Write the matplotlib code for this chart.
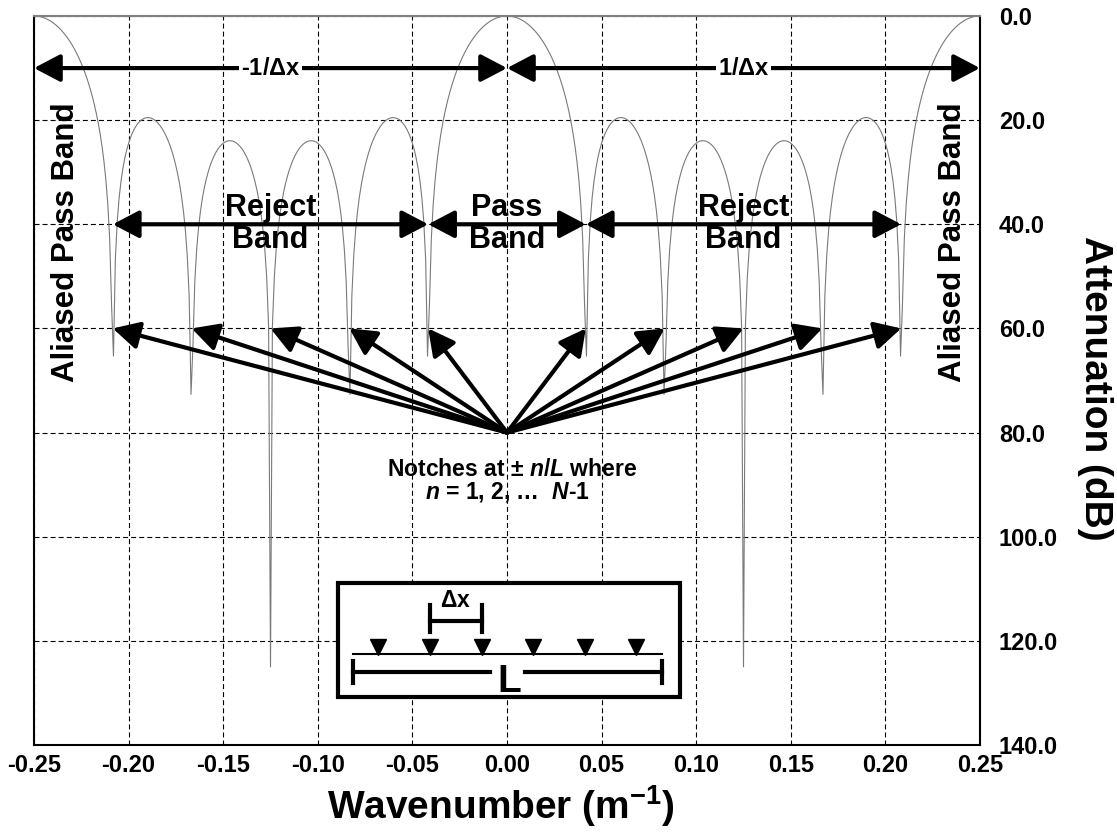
import numpy as np
import matplotlib
matplotlib.use('Agg')
import matplotlib.pyplot as plt
from matplotlib.patches import Rectangle
from matplotlib.ticker import FormatStrFormatter

plt.rcParams['font.family'] = ['Liberation Sans', 'DejaVu Sans']
plt.rcParams['font.weight'] = 'bold'
plt.rcParams['mathtext.fontset'] = 'custom'
plt.rcParams['mathtext.rm'] = 'Liberation Sans'
plt.rcParams['mathtext.it'] = 'Liberation Sans:italic:bold'
plt.rcParams['mathtext.bf'] = 'Liberation Sans:bold'
plt.rcParams['lines.scale_dashes'] = False

# array: 6 receivers, 1/dx = 0.25 1/m -> dx = 4 m
n_elem = 6
dx = 4.0
db_scale = 1.57      # sidelobes read at ~19.5 / ~23.8 dB
floor_db = 125.0     # deepest notch (at +-0.125)
k = np.arange(-250, 251) / 1000.0   # wavenumber samples, 0.001 apart

xticks = [-0.25, -0.20, -0.15, -0.10, -0.05, 0.00, 0.05, 0.10, 0.15, 0.20, 0.25]
yticks = [0, 20, 40, 60, 80, 100, 120, 140]

notch_n = [1, 2, 3, 4, 5]
band_edges = [-0.25, 0.0, 0.25]                         # -1/dx, 1/dx arrows
band_arrows = [(-5 / 24, -1 / 24), (-1 / 24, 1 / 24), (1 / 24, 5 / 24)]
band_labels = ['Reject\nBand', 'Pass\nBand', 'Reject\nBand']
elem_x = [-0.0680, -0.0407, -0.0134, 0.0139, 0.0412, 0.0682]

# array response
u = np.pi * k * dx
num = np.sin(n_elem * u)
den = n_elem * np.sin(u)
af = np.where(np.abs(den) < 1e-9, 1.0, num / np.where(np.abs(den) < 1e-9, 1.0, den))
atten = np.minimum(-20 * db_scale * np.log10(np.abs(af) + 1e-300), floor_db)

fig = plt.figure(figsize=(11.17, 8.34), dpi=100)
ax = fig.add_axes([34 / 1117, 1 - 745 / 834, 946 / 1117, 729 / 834])
ax.plot(k, atten, color='#7a7a7a', lw=0.8, zorder=2)

ax.set_xlim(-0.25, 0.25)
ax.set_ylim(140, 0)
ax.set_xticks(xticks)
ax.set_yticks(yticks)
ax.xaxis.set_major_formatter(FormatStrFormatter('%.2f'))
ax.yaxis.set_major_formatter(FormatStrFormatter('%.1f'))
ax.yaxis.tick_right()
ax.tick_params(length=0, labelsize=17)
ax.tick_params(axis='x', pad=6.5)
ax.tick_params(axis='y', pad=13.5)
ax.set_axisbelow(True)
ax.grid(True, color='black', lw=0.8, linestyle=(0, (3.6, 2.2)))
for s in ax.spines.values():
    s.set_linewidth(1.5)
ax.spines['top'].set_color('#808080')


def arrow(x0, y0, x1, y1, style):
    ax.annotate('', xy=(x1, y1), xytext=(x0, y0), zorder=5,
                arrowprops=dict(arrowstyle=style + ',head_length=0.8,head_width=0.42',
                                color='black', lw=3, shrinkA=0, shrinkB=0,
                                mutation_scale=20))


# -1/dx and 1/dx
for a, b, lab in zip(band_edges[:-1], band_edges[1:], ['-1/$\\Delta$x', '1/$\\Delta$x']):
    arrow(a, 10, b, 10, '<|-|>')
    ax.text((a + b) / 2, 10, lab, ha='center', va='center', fontsize=17, zorder=6,
            bbox=dict(fc='white', ec='none', pad=1.5))

# pass / reject bands
for (a, b), lab in zip(band_arrows, band_labels):
    arrow(a, 40, b, 40, '<|-|>')
    ax.text((a + b) / 2, 40, lab, ha='center', va='center', fontsize=22,
            linespacing=1.1, zorder=6)

for xx in [-0.2331, 0.2357]:
    ax.text(xx, 43.4, 'Aliased Pass Band', rotation=90, ha='center', va='center',
            fontsize=22.5, zorder=6)

# notch arrows
L = n_elem * dx
for n in notch_n:
    for sgn in (-1, 1):
        arrow(0, 80, sgn * n / L, 60, '-|>')

ax.text(0.0025, 87.0, 'Notches at \u00b1 $n$/$L$ where', ha='center', va='center',
        fontsize=16.5, zorder=6)
ax.text(0.0, 91.5, '$n$ = 1, 2, \u2026  $N$-$\\mathit{1}$', ha='center', va='center',
        fontsize=16.5, zorder=6)

# inset sketch of the array
ax.add_patch(Rectangle((-0.0893, 108.9), 0.1806, 21.9, fc='white', ec='black',
                       lw=3, zorder=7))
ax.plot([-0.0816, 0.0817], [122.6, 122.6], color='black', lw=1.5, zorder=8)
ax.plot(elem_x, [121.1] * len(elem_x), 'v', color='black', ms=11.5, zorder=8)
# dx bracket
ax.plot([elem_x[1], elem_x[2]], [116.2, 116.2], color='black', lw=3, zorder=8)
for xx in (elem_x[1], elem_x[2]):
    ax.plot([xx, xx], [113.2, 118.3], color='black', lw=3, zorder=8)
ax.text(-0.027, 112.3, '$\\Delta$x', ha='center', va='center', fontsize=16.5, zorder=8)
# L bracket
ax.plot([-0.0816, -0.0091], [125.9, 125.9], color='black', lw=3, zorder=8)
ax.plot([0.0095, 0.0817], [125.9, 125.9], color='black', lw=3, zorder=8)
for xx in (-0.0816, 0.0817):
    ax.plot([xx, xx], [123.9, 128.1], color='black', lw=3, zorder=8)
ax.text(0.001, 129.9, 'L', ha='center', va='baseline', fontsize=28, zorder=8)

fig.text(501 / 1117, 1 - 806 / 834, 'Wavenumber (m$^{\\mathbf{-1}}$)', fontsize=28,
         ha='center', va='center')
fig.text(1095 / 1117, 1 - 388 / 834, 'Attenuation (dB)', fontsize=28, rotation=270,
         ha='center', va='center')

fig.savefig('out.png', dpi=100)
